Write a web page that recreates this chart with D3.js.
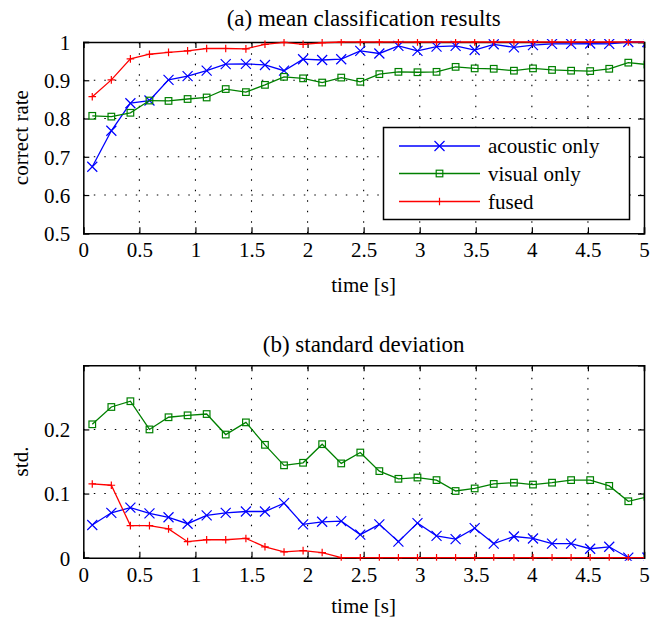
<!DOCTYPE html>
<html><head><meta charset="utf-8">
<script src="https://cdn.jsdelivr.net/npm/d3@7"></script>
<style>
html,body{margin:0;padding:0;background:#fff;}
svg{display:block;}
svg text{font-family:"Liberation Serif","DejaVu Serif",serif !important;}
</style></head>
<body>
<svg id="chart" width="659" height="620"></svg>
<script>
// ---- data ----
const times = [0.08,0.25,0.42,0.59,0.76,0.93,1.10,1.27,1.45,1.62,1.79,1.96,2.13,2.30,2.47,2.64,2.81,2.98,3.15,3.32,3.49,3.66,3.84,4.01,4.18,4.35,4.52,4.69,4.86,5.03];
const meanAcoustic = [0.674,0.768,0.840,0.847,0.901,0.911,0.925,0.942,0.943,0.940,0.925,0.955,0.953,0.955,0.977,0.970,0.990,0.977,0.988,0.990,0.979,0.994,0.986,0.992,0.995,0.995,0.996,0.995,1.0,1.0];
const meanVisual = [0.807,0.805,0.815,0.847,0.846,0.851,0.855,0.877,0.869,0.888,0.909,0.905,0.894,0.907,0.896,0.916,0.922,0.921,0.922,0.935,0.931,0.930,0.925,0.931,0.927,0.925,0.924,0.930,0.946,0.941];
const meanFused = [0.857,0.901,0.956,0.968,0.973,0.977,0.983,0.983,0.982,0.994,0.999,0.994,0.998,1,1,1,1,1,1,1,1,1,1,1,1,1,1,1,1,1];
const stdAcoustic = [0.051,0.070,0.078,0.069,0.063,0.053,0.066,0.070,0.072,0.072,0.085,0.052,0.056,0.057,0.036,0.052,0.025,0.054,0.034,0.029,0.046,0.022,0.033,0.030,0.022,0.022,0.014,0.017,0.0,0.0];
const stdVisual = [0.208,0.235,0.244,0.200,0.219,0.222,0.224,0.192,0.211,0.176,0.144,0.148,0.177,0.147,0.164,0.135,0.123,0.125,0.121,0.104,0.108,0.115,0.117,0.114,0.117,0.121,0.121,0.112,0.088,0.095];
const stdFused = [0.115,0.113,0.050,0.050,0.045,0.025,0.028,0.028,0.030,0.017,0.009,0.011,0.008,0,0,0,0,0,0,0,0,0,0,0,0,0,0,0,0,0];
const seriesNames = ["acoustic only","visual only","fused"];
const xTicks = [0,0.5,1,1.5,2,2.5,3,3.5,4,4.5,5];
const xTickLabels = ["0","0.5","1","1.5","2","2.5","3","3.5","4","4.5","5"];
const yTicksTop = [0.5,0.6,0.7,0.8,0.9,1];
const yTickLabelsTop = ["0.5","0.6","0.7","0.8","0.9","1"];
const yTicksBot = [0,0.1,0.2];
const yTickLabelsBot = ["0","0.1","0.2"];

// ---- styles ----
const colors = ["#0000ff","#008000","#ff0000"];
const markers = ["x","square","plus"];
const FS = 21, TFS = 23;
const FONT = "'Liberation Serif', 'DejaVu Serif', serif";

const svg = d3.select("#chart");
const X0 = 83.3, X1 = 644;

function marker(g, type, color, x, y) {
  if (type === "x") {
    const s = 5;
    g.append("path").attr("d", `M${x-s},${y-s}L${x+s},${y+s}M${x-s},${y+s}L${x+s},${y-s}`)
      .attr("stroke", color).attr("stroke-width", 1.2).attr("fill", "none");
  } else if (type === "square") {
    const s = 3.3;
    g.append("rect").attr("x", x-s).attr("y", y-s).attr("width", 2*s).attr("height", 2*s)
      .attr("stroke", color).attr("stroke-width", 1.2).attr("fill", "none");
  } else {
    const s = 3.8;
    g.append("path").attr("d", `M${x-s},${y}L${x+s},${y}M${x},${y-s}L${x},${y+s}`)
      .attr("stroke", color).attr("stroke-width", 1.2).attr("fill", "none");
  }
}

function panel(opt) {
  const x = d3.scaleLinear().domain([0,5]).range([X0, X1]);
  const y = d3.scaleLinear().domain(opt.ydom).range([opt.bottom, opt.top]);
  const g = svg.append("g");
  const id = opt.id;
  svg.append("defs").append("clipPath").attr("id", id)
    .append("rect").attr("x", X0).attr("y", opt.top - 3).attr("width", X1 - X0).attr("height", opt.bottom - opt.top + 6);

  const grid = g.append("g").attr("stroke", "#000").attr("stroke-width", 1.1).attr("stroke-dasharray", "1.5,9");
  xTicks.forEach(t => {
    if (t > 0 && t < 5) grid.append("line").attr("x1", x(t)).attr("x2", x(t)).attr("y1", opt.bottom).attr("y2", opt.top);
  });
  opt.yticks.forEach(t => {
    const yy = y(t);
    if (yy < opt.bottom - 1 && yy > opt.top + 1) grid.append("line").attr("x1", X0).attr("x2", X1).attr("y1", yy).attr("y2", yy);
  });

  const xb = g.append("g").attr("transform", `translate(0,${opt.bottom})`)
    .call(d3.axisBottom(x).tickValues(xTicks).tickSize(-6).tickFormat((d,i) => xTickLabels[i]));
  const xt = g.append("g").attr("transform", `translate(0,${opt.top})`)
    .call(d3.axisTop(x).tickValues(xTicks).tickSize(-6).tickFormat(""));
  const yl = g.append("g").attr("transform", `translate(${X0},0)`)
    .call(d3.axisLeft(y).tickValues(opt.yticks).tickSize(-6).tickFormat((d,i) => opt.ylabels[i]));
  const yr = g.append("g").attr("transform", `translate(${X1},0)`)
    .call(d3.axisRight(y).tickValues(opt.yticks).tickSize(-6).tickFormat(""));
  [xb, xt, yl, yr].forEach(a => {
    a.attr("font-family", FONT).attr("font-size", FS);
    a.select(".domain").attr("stroke", "#000").attr("stroke-width", 1.5);
    a.selectAll(".tick line").attr("stroke", "#000").attr("stroke-width", 1.2);
    a.selectAll("text").attr("font-family", FONT).attr("font-size", FS).attr("fill", "#000");
  });
  xb.selectAll(".tick text").attr("y", 0).attr("dy", 0).attr("transform", "translate(0,24)");
  yl.selectAll(".tick text").attr("x", -13).attr("dy", "0.35em");

  g.append("text").attr("x", (X0 + X1) / 2).attr("y", opt.titleY).attr("text-anchor", "middle")
    .attr("font-family", FONT).attr("font-size", TFS).text(opt.title);
  g.append("text").attr("x", (X0 + X1) / 2).attr("y", opt.xlabY).attr("text-anchor", "middle")
    .attr("font-family", FONT).attr("font-size", FS).text("time [s]");
  g.append("text").attr("transform", `translate(28,${(opt.top + opt.bottom) / 2}) rotate(-90)`)
    .attr("text-anchor", "middle").attr("font-family", FONT).attr("font-size", FS).text(opt.ylabel);

  const dg = g.append("g").attr("clip-path", `url(#${id})`);
  const line = d3.line().x((d,i) => x(times[i])).y(d => y(d));
  opt.series.forEach((vals, si) => {
    dg.append("path").datum(vals).attr("d", line).attr("fill", "none")
      .attr("stroke", colors[si]).attr("stroke-width", 1.3);
    vals.forEach((v, i) => marker(dg, markers[si], colors[si], x(times[i]), y(v)));
  });
  return {x, y, g};
}

panel({id: "clipA", top: 42, bottom: 233.3, ydom: [0.5, 1], yticks: yTicksTop, ylabels: yTickLabelsTop,
  title: "(a) mean classification results", titleY: 26, xlabY: 292, ylabel: "correct rate",
  series: [meanAcoustic, meanVisual, meanFused]});
panel({id: "clipB", top: 365.3, bottom: 557.7, ydom: [0, 0.3], yticks: yTicksBot, ylabels: yTickLabelsBot,
  title: "(b) standard deviation", titleY: 352, xlabY: 613, ylabel: "std.",
  series: [stdAcoustic, stdVisual, stdFused]});

const lg = svg.append("g");
lg.append("rect").attr("x", 383.5).attr("y", 127.5).attr("width", 246).attr("height", 92)
  .attr("fill", "#fff").attr("stroke", "#000").attr("stroke-width", 1.5);
const rows = [146, 173.5, 201.5];
seriesNames.forEach((name, i) => {
  lg.append("line").attr("x1", 399).attr("x2", 480).attr("y1", rows[i]).attr("y2", rows[i])
    .attr("stroke", colors[i]).attr("stroke-width", 1.3);
  marker(lg, markers[i], colors[i], 439.5, rows[i]);
  lg.append("text").attr("x", 488).attr("y", rows[i] + 7).attr("font-family", FONT).attr("font-size", FS).text(name);
});
</script>
</body></html>
